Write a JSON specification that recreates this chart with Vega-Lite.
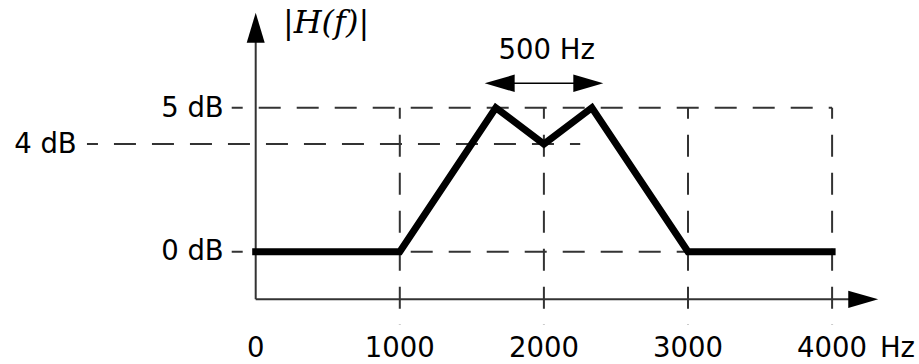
{
  "$schema": "https://vega.github.io/schema/vega-lite/v6.json",
  "width": 919,
  "height": 364,
  "autosize": "none",
  "padding": 0,
  "background": "white",
  "config": {"view": {"stroke": null}},
  "datasets": {
    "dashes": [
      {"f": -166.5, "f2": 4000, "db": 5, "db2": 5},
      {"f": -1171, "f2": 2252, "db": 4, "db2": 4},
      {"f": -166.5, "f2": 3000, "db": 0, "db2": 0},
      {"f": 1000, "f2": 1000, "db": 5, "db2": -2.72},
      {"f": 2000, "f2": 2000, "db": 5, "db2": -2.72},
      {"f": 3000, "f2": 3000, "db": 5, "db2": -2.72},
      {"f": 4000, "f2": 4000, "db": 5, "db2": -2.72}
    ],
    "axes": [
      {"f": 0, "f2": 0, "db": -1.77, "db2": 7.2},
      {"f": 0, "f2": 4216, "db": -1.77, "db2": -1.77}
    ],
    "span": [
      {"f": 1693, "f2": 2308, "db": 5.672, "db2": 5.672}
    ],
    "curve": [
      {"f": 0, "db": 0},
      {"f": 1000, "db": 0},
      {"f": 1666, "db": 5},
      {"f": 2000, "db": 4},
      {"f": 2333, "db": 5},
      {"f": 3000, "db": 0},
      {"f": 4000, "db": 0}
    ],
    "arrows": [
      {"f": 0, "db": 7.2, "dir": "up"},
      {"f": 4216, "db": -1.77, "dir": "right"},
      {"f": 1693, "db": 5.672, "dir": "left"},
      {"f": 2308, "db": 5.672, "dir": "right"}
    ],
    "xlabels": [
      {"f": 0, "db": -3.9, "t": "0"},
      {"f": 1000, "db": -3.9, "t": "1000"},
      {"f": 2000, "db": -3.9, "t": "2000"},
      {"f": 3000, "db": -3.9, "t": "3000"},
      {"f": 4000, "db": -3.9, "t": "4000"}
    ],
    "hz": [
      {"f": 4332, "db": -3.9, "t": "Hz"}
    ],
    "ylabels": [
      {"f": -222, "db": 4.752, "t": "5 dB"},
      {"f": -1242, "db": 3.658, "t": "4 dB"},
      {"f": -222, "db": -0.309, "t": "0 dB"}
    ],
    "top": [
      {"f": 2019, "db": 6.333, "t": "500 Hz"}
    ],
    "title": [
      {"f": 189, "db": 7.05, "t": "|H(f)|"}
    ]
  },
  "encoding": {
    "x": {"field": "f", "type": "quantitative", "axis": null,
          "scale": {"domain": [0, 4000], "range": [255.7, 832.1], "nice": false, "zero": false}},
    "y": {"field": "db", "type": "quantitative", "axis": null,
          "scale": {"domain": [0, 4, 5], "range": [251.7, 144, 107.7], "nice": false, "zero": false}}
  },
  "layer": [
    {
      "data": {"name": "dashes"},
      "mark": {"type": "rule", "color": "#333333", "strokeWidth": 2, "strokeDash": [22, 16], "strokeDashOffset": 11},
      "encoding": {"x2": {"field": "f2"}, "y2": {"field": "db2"}}
    },
    {
      "data": {"name": "axes"},
      "mark": {"type": "rule", "color": "#333333", "strokeWidth": 2},
      "encoding": {"x2": {"field": "f2"}, "y2": {"field": "db2"}}
    },
    {
      "data": {"name": "span"},
      "mark": {"type": "rule", "color": "#000000", "strokeWidth": 1.6},
      "encoding": {"x2": {"field": "f2"}, "y2": {"field": "db2"}}
    },
    {
      "data": {"name": "curve"},
      "mark": {"type": "line", "color": "#000000", "strokeWidth": 7, "strokeCap": "square", "strokeJoin": "miter"},
      "encoding": {}
    },
    {
      "data": {"name": "arrows"},
      "mark": {"type": "point", "filled": true, "color": "#000000", "opacity": 1, "size": 900},
      "encoding": {
        "shape": {"field": "dir", "type": "nominal", "legend": null,
                  "scale": {"domain": ["up", "right", "left"],
                            "range": ["M0,-1L0.6,1L-0.6,1Z", "M1,0L-1,0.58L-1,-0.58Z", "M-1,0L1,-0.58L1,0.58Z"]}}
      }
    },
    {
      "data": {"name": "xlabels"},
      "mark": {"type": "text", "font": "DejaVu Sans", "fontSize": 27.5, "align": "center", "baseline": "alphabetic", "color": "#000000"},
      "encoding": {"text": {"field": "t"}}
    },
    {
      "data": {"name": "hz"},
      "mark": {"type": "text", "font": "DejaVu Sans", "fontSize": 27.5, "align": "left", "baseline": "alphabetic", "color": "#000000"},
      "encoding": {"text": {"field": "t"}}
    },
    {
      "data": {"name": "ylabels"},
      "mark": {"type": "text", "font": "DejaVu Sans", "fontSize": 27.5, "align": "right", "baseline": "alphabetic", "color": "#000000"},
      "encoding": {"text": {"field": "t"}}
    },
    {
      "data": {"name": "top"},
      "mark": {"type": "text", "font": "DejaVu Sans", "fontSize": 27.5, "align": "center", "baseline": "alphabetic", "color": "#000000"},
      "encoding": {"text": {"field": "t"}}
    },
    {
      "data": {"name": "title"},
      "mark": {"type": "text", "font": "DejaVu Serif", "fontStyle": "italic", "fontSize": 32, "align": "left", "baseline": "alphabetic", "color": "#000000"},
      "encoding": {"text": {"field": "t"}}
    }
  ]
}
